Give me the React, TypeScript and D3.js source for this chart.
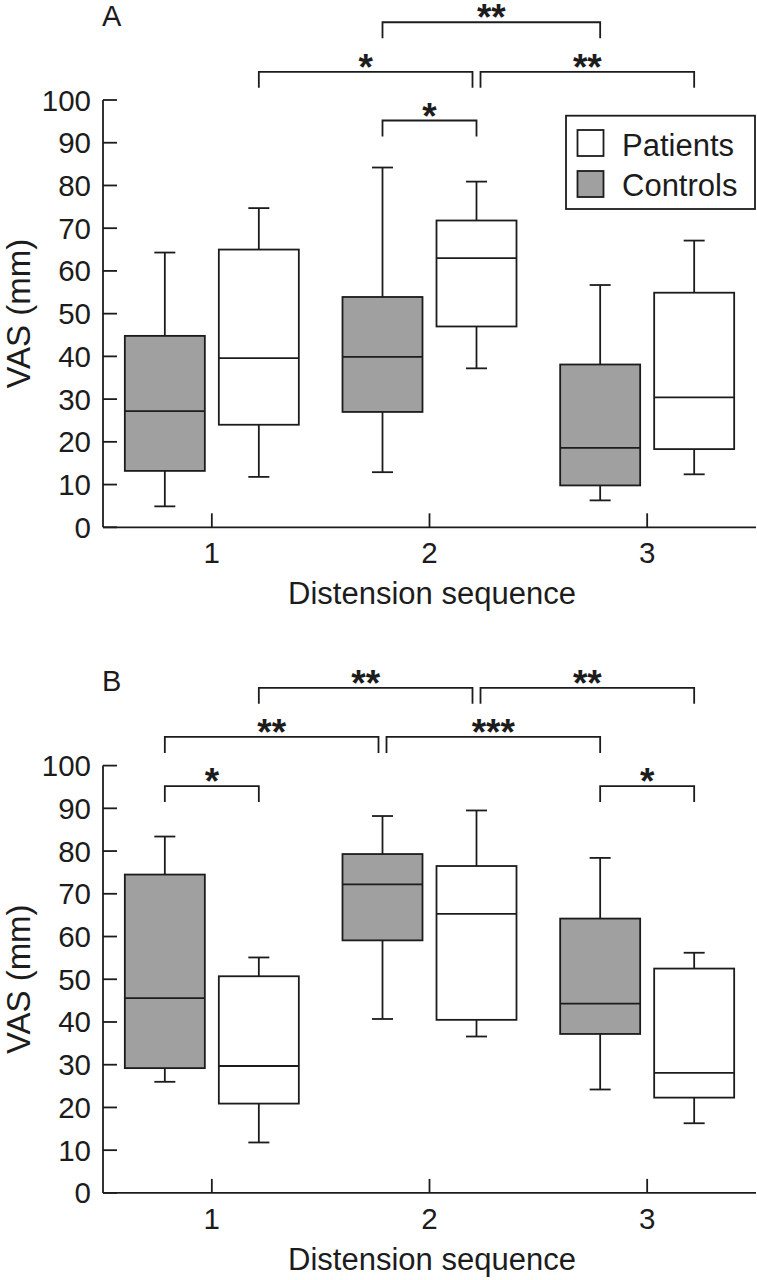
import React from "react";
import * as d3 from "d3";

// ---------- data ----------
const sequences = [1, 2, 3];
const yTicks = [0, 10, 20, 30, 40, 50, 60, 70, 80, 90, 100];

// Panel A – controls
const aCtrlLow = [4.9, 12.9, 6.3];
const aCtrlQ1 = [13.2, 27.0, 9.8];
const aCtrlMed = [27.2, 39.9, 18.6];
const aCtrlQ3 = [44.8, 53.9, 38.1];
const aCtrlHigh = [64.3, 84.2, 56.7];
// Panel A – patients
const aPatLow = [11.8, 37.2, 12.4];
const aPatQ1 = [24.0, 47.0, 18.3];
const aPatMed = [39.6, 63.0, 30.4];
const aPatQ3 = [65.0, 71.8, 54.9];
const aPatHigh = [74.7, 80.9, 67.1];

// Panel B – controls
const bCtrlLow = [26.0, 40.7, 24.2];
const bCtrlQ1 = [29.2, 59.1, 37.2];
const bCtrlMed = [45.6, 72.2, 44.3];
const bCtrlQ3 = [74.5, 79.3, 64.2];
const bCtrlHigh = [83.4, 88.2, 78.4];
// Panel B – patients
const bPatLow = [11.8, 36.6, 16.3];
const bPatQ1 = [20.9, 40.5, 22.3];
const bPatMed = [29.7, 65.3, 28.1];
const bPatQ3 = [50.7, 76.5, 52.5];
const bPatHigh = [55.1, 89.5, 56.2];

// significance brackets: [seqFrom, seriesFrom, seqTo, seriesTo, level (VAS), label]
const aBrackets: [number, string, number, string, number, string][] = [
  [2, "C", 3, "C", 118.2, "**"],
  [1, "P", 2, "P", 106.6, "*"],
  [2, "P", 3, "P", 106.6, "**"],
  [2, "C", 2, "P", 95.2, "*"],
];
const bBrackets: [number, string, number, string, number, string][] = [
  [1, "P", 2, "P", 118.2, "**"],
  [2, "P", 3, "P", 118.2, "**"],
  [1, "C", 2, "C", 106.7, "**"],
  [2, "C", 3, "C", 106.7, "***"],
  [1, "C", 1, "P", 95.2, "*"],
  [3, "C", 3, "P", 95.2, "*"],
];

const seriesNames = ["Patients", "Controls"];
const panelLabels = ["A", "B"];
const xTitle = "Distension sequence";
const yTitle = "VAS (mm)";

// ---------- style ----------
const FONT = "'Liberation Sans', Arial, sans-serif";
const INK = "#1c1c1c";
const GRAY = "#a0a0a0";
const SW = 1.8;

const x = d3.scaleLinear().domain([0.5, 3.5]).range([103, 756]);
const y = d3.scaleLinear().domain([0, 100]).range([527.3, 100]);
const BOX_W = 80;
const OFFSET = 47;
const CAP = 21;
const LEG = 16;
const TICK = 14;

const seriesX = (seq: number, s: string) => x(seq) + (s === "C" ? -OFFSET : OFFSET);

function BoxSet({ low, q1, med, q3, high, fill }: any) {
  const s = fill === "white" ? "P" : "C";
  return (
    <g>
      {sequences.map((seq, i) => {
        const cx = seriesX(seq, s);
        return (
          <g key={i} stroke={INK} strokeWidth={SW}>
            <line x1={cx} x2={cx} y1={y(high[i])} y2={y(q3[i])} />
            <line x1={cx} x2={cx} y1={y(q1[i])} y2={y(low[i])} />
            <line x1={cx - CAP / 2} x2={cx + CAP / 2} y1={y(high[i])} y2={y(high[i])} />
            <line x1={cx - CAP / 2} x2={cx + CAP / 2} y1={y(low[i])} y2={y(low[i])} />
            <rect x={cx - BOX_W / 2} width={BOX_W} y={y(q3[i])} height={y(q1[i]) - y(q3[i])} fill={fill} />
            <line x1={cx - BOX_W / 2} x2={cx + BOX_W / 2} y1={y(med[i])} y2={y(med[i])} />
          </g>
        );
      })}
    </g>
  );
}

function Brackets({ list }: any) {
  return (
    <g>
      {list.map((b: any, i: number) => {
        const [s1, r1, s2, r2, lvl, lab] = b;
        const shared = (seq: number, ser: string, self: number) =>
          list.some(
            (o: any, j: number) =>
              j !== self && o[4] === lvl && ((o[0] === seq && o[1] === ser) || (o[2] === seq && o[3] === ser))
          );
        let xa = seriesX(s1, r1);
        let xb = seriesX(s2, r2);
        if (shared(s1, r1, i)) xa += 4;
        if (shared(s2, r2, i)) xb -= 4;
        const yy = y(lvl);
        return (
          <g key={i}>
            <path
              d={`M${xa},${yy + LEG}V${yy}H${xb}V${yy + LEG}`}
              fill="none"
              stroke={INK}
              strokeWidth={SW}
            />
            <text
              x={(xa + xb) / 2}
              y={yy + 8}
              textAnchor="middle"
              fontFamily={FONT}
              fontSize={37}
              fontWeight="bold"
              fill={INK}
            >
              {lab}
            </text>
          </g>
        );
      })}
    </g>
  );
}

function Panel({ offset, label, ctrl, pat, brackets, legend }: any) {
  return (
    <g transform={`translate(0,${offset})`}>
      <text x={102} y={25.5} fontFamily={FONT} fontSize={29} fill={INK}>
        {label}
      </text>
      {/* axes */}
      <g stroke={INK} strokeWidth={SW} fill="none">
        <line x1={x(0.5)} x2={x(0.5)} y1={y(0)} y2={y(100)} />
        <line x1={x(0.5)} x2={x(3.5)} y1={y(0)} y2={y(0)} />
        {yTicks.map((t) => (
          <line key={t} x1={x(0.5)} x2={x(0.5) + TICK} y1={y(t)} y2={y(t)} />
        ))}
        {sequences.map((s) => (
          <line key={s} x1={x(s)} x2={x(s)} y1={y(0)} y2={y(0) - TICK} />
        ))}
      </g>
      {yTicks.map((t) => (
        <text key={t} x={91} y={y(t) + 10.5} textAnchor="end" fontFamily={FONT} fontSize={29.5} fill={INK}>
          {t}
        </text>
      ))}
      {sequences.map((s) => (
        <text key={s} x={x(s)} y={y(0) + 36} textAnchor="middle" fontFamily={FONT} fontSize={29.5} fill={INK}>
          {s}
        </text>
      ))}
      <text x={432} y={604} textAnchor="middle" fontFamily={FONT} fontSize={31} fill={INK}>
        {xTitle}
      </text>
      <text
        transform={`translate(30,${y(50)}) rotate(-90)`}
        textAnchor="middle"
        fontFamily={FONT}
        fontSize={33}
        fill={INK}
      >
        {yTitle}
      </text>
      <BoxSet {...ctrl} fill={GRAY} />
      <BoxSet {...pat} fill="white" />
      <Brackets list={brackets} />
      {legend && (
        <g>
          <rect x={566} y={115.7} width={189} height={93.3} fill="white" stroke={INK} strokeWidth={SW} />
          {seriesNames.map((n, i) => (
            <g key={n}>
              <rect
                x={577.5}
                y={130 + i * 41}
                width={26}
                height={26}
                fill={n === "Patients" ? "white" : GRAY}
                stroke={INK}
                strokeWidth={SW}
              />
              <text x={622} y={155.5 + i * 40.5} fontFamily={FONT} fontSize={31} fill={INK}>
                {n}
              </text>
            </g>
          ))}
        </g>
      )}
    </g>
  );
}

export default function App() {
  return (
    <svg
      width={757}
      height={1280}
      style={{ position: "absolute", left: 0, top: 0, background: "white" }}
    >
      <rect width={757} height={1280} fill="white" />
      <Panel
        offset={0}
        label={panelLabels[0]}
        ctrl={{ low: aCtrlLow, q1: aCtrlQ1, med: aCtrlMed, q3: aCtrlQ3, high: aCtrlHigh }}
        pat={{ low: aPatLow, q1: aPatQ1, med: aPatMed, q3: aPatQ3, high: aPatHigh }}
        brackets={aBrackets}
        legend
      />
      <Panel
        offset={665.6}
        label={panelLabels[1]}
        ctrl={{ low: bCtrlLow, q1: bCtrlQ1, med: bCtrlMed, q3: bCtrlQ3, high: bCtrlHigh }}
        pat={{ low: bPatLow, q1: bPatQ1, med: bPatMed, q3: bPatQ3, high: bPatHigh }}
        brackets={bBrackets}
        legend={false}
      />
    </svg>
  );
}
